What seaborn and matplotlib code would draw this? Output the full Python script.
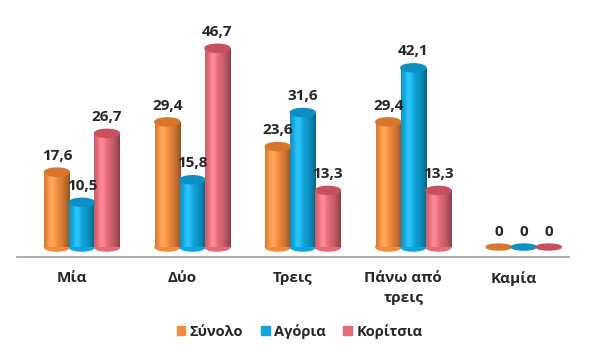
import numpy as np
import pandas as pd
import matplotlib
matplotlib.use("Agg")
from matplotlib import pyplot as plt
from matplotlib.patches import Ellipse
import seaborn as sns

categories = ["Μία", "Δύο", "Τρεις", "Πάνω από\nτρεις", "Καμία"]
series = ["Σύνολο", "Αγόρια", "Κορίτσια"]
synolo = [17.6, 29.4, 23.6, 29.4, 0]
agoria = [10.5, 15.8, 31.6, 42.1, 0]
koritsia = [26.7, 46.7, 13.3, 13.3, 0]

colors = ["#F38B3C", "#0FA6DF", "#E56B78"]
caps = ["#D9762B", "#0B8FC4", "#C9505E"]

df = pd.DataFrame({"cat": categories * 3,
                   "series": np.repeat(series, len(categories)),
                   "value": synolo + agoria + koritsia})

sns.set_style("white")
plt.rcParams["font.family"] = ["Open Sans", "DejaVu Sans"]

fig = plt.figure(figsize=(5.99, 3.6), dpi=100)
ax = fig.add_axes([0.028, 0.286, 0.922, 0.658])

sns.barplot(data=df, x="cat", y="value", hue="series", palette=colors,
            width=0.68, ax=ax, legend=False, saturation=1)

shift = 0.09
cap_h = 1.9
bars = [p for p in ax.patches if p.get_width() > 0]
for i, p in enumerate(bars):
    s = i // len(categories)
    p.set_x(p.get_x() + shift)
    p.set_edgecolor("none")
    x0, w, h = p.get_x(), p.get_width(), p.get_height()
    xc = x0 + w / 2
    if h > 0:
        # cylinder shading
        grad = np.linspace(0, 1, 64)
        shade = 1 - 0.4 * (grad - 0.35) ** 2 / 0.42
        base = np.array(matplotlib.colors.to_rgb(colors[s]))
        img = np.clip(base[None, :] * shade[:, None] + 0.12 * np.exp(-((grad - 0.3) / 0.15) ** 2)[:, None], 0, 1)
        im = ax.imshow(img[None, :, :], extent=(x0, x0 + w, 0, h), aspect="auto", zorder=2)
        im.set_clip_path(p)
        ax.add_patch(Ellipse((xc, 0), w, cap_h, color=colors[s], zorder=1.9))
        ax.add_patch(Ellipse((xc, h), w, cap_h, color=caps[s], zorder=3))
        ax.text(xc, h + 2.2, f"{h:.1f}".replace(".", ","), ha="center", va="bottom",
                fontsize=11, fontweight="bold")
    else:
        ax.add_patch(Ellipse((xc, 0), w, 1.4, color=caps[s], zorder=3))
        ax.text(xc, 1.8, "0", ha="center", va="bottom", fontsize=11, fontweight="bold")

ax.set_xlim(-0.5, 4.5)
ax.set_ylim(-2.35, 53.3)
ax.set_xlabel("")
ax.set_ylabel("")
ax.set_yticks([])
ax.set_xticks(range(len(categories)))
ax.set_xticklabels(categories, fontsize=11, fontweight="bold", linespacing=1.55)
ax.tick_params(axis="x", length=0, pad=10)
ax.set_xticks(np.arange(-0.5, 4.6, 1), minor=True)
ax.tick_params(axis="x", which="minor", length=5, color="#A0A0A0", width=1)
for side in ["top", "right", "left"]:
    ax.spines[side].set_visible(False)
ax.spines["bottom"].set_color("#A0A0A0")
ax.spines["bottom"].set_linewidth(1.2)

handles = [plt.Rectangle((0, 0), 1, 1, color=c) for c in colors]
fig.legend(handles, series, loc="center", bbox_to_anchor=(0.5, 0.08), ncol=3,
           frameon=False, prop={"weight": "bold", "size": 10.5},
           handlelength=0.6, handleheight=0.6, handletextpad=0.3, columnspacing=1.2)

fig.savefig("out.png", dpi=100)
